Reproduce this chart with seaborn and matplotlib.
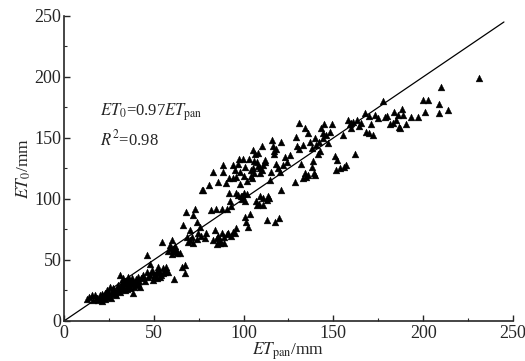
import numpy as np
import pandas as pd
import seaborn as sns
import matplotlib.pyplot as plt
from matplotlib.ticker import MultipleLocator

# ET_pan (x) and ET_0 (y) values, in mm
et_pan = [14.1, 13, 15.4, 18.2, 20, 21, 22, 22.8, 23.7, 24.7, 25.6, 26.5, 27.4, 28.4, 29.3, 30.2,
          31.2, 32, 33, 34, 34.9, 35.8, 36.7, 37.6, 38.6, 39.5, 40.4, 41.4, 42.3, 44, 46, 47.8,
          48.8, 49.7, 50.6, 51.6, 52.5, 53.4, 54.3, 55.3, 56, 57, 58, 59, 60, 60.8, 61.8, 61.3,
          62.7, 64.5, 65.5, 66, 67.3, 67.3, 67.9, 68.2, 69, 70, 72, 72.9, 73.8, 74.7, 75.7, 76.6,
          77.5, 78.4, 81, 82, 83, 84, 84.6, 85, 85.9, 86.8, 87.7, 88.6, 88.6, 89, 90.5, 91.4,
          92, 92.4, 93, 94.2, 94.2, 95, 96, 97, 97.6, 98, 98.3, 98.9, 99.8, 100.7, 100.7, 101.6,
          102.6, 103.5, 103.9, 104.4, 105.3, 106.3, 107.2, 107.6, 108.7, 109, 110, 110.9, 111.8,
          112.8, 113.7, 114.6, 115.5, 116, 116.5, 116.8, 117.4, 118.3, 119.8, 121, 121, 122, 123,
          125.7, 128.5, 129, 130, 130.6, 132, 133, 134, 134, 135, 136, 137, 138, 138.7, 139,
          139.7, 140.6, 141.5, 142.4, 143.3, 144.3, 145, 149, 150.8, 151.7, 153.5, 155.4, 157,
          158, 159, 160, 162, 163, 165.6, 167.5, 168.4, 170, 171, 173, 177.7, 178.6, 181.4, 183,
          184, 186, 186.7, 188, 188.8, 190.7, 193.4, 197, 200, 200.9, 202.7, 209, 209, 210,
          213.8, 231,
          16, 17, 19, 20, 21, 23, 24, 25, 26, 27, 28, 29, 30, 31, 32, 32, 33, 33, 34, 35, 35, 36,
          36, 37, 37, 38, 38, 39, 40, 41, 42, 43, 44, 45, 46, 47, 48, 49, 50, 51, 52, 53, 54, 55,
          56, 57, 58, 59, 60, 61, 62, 63,
          70, 71, 72, 74, 76, 79, 83, 85, 86, 87, 88, 89, 91, 93, 94, 96, 97, 99, 100, 101, 102,
          104, 105, 106, 108, 109, 110, 111, 112, 107, 109, 111, 113, 114, 90, 92, 95, 96, 98,
          100, 102, 103, 106, 108, 117, 118, 119, 120, 124,
          131, 133, 136, 138, 140, 142, 144, 146, 147, 148, 152, 156, 160, 161, 164, 170, 172,
          175, 180, 185, 187]
et_0 = [19.9, 18, 21, 19, 21, 16, 18.6, 22.7, 25.4, 20, 28, 24, 26.8, 22.7, 25.4, 29.5,
        37.7, 32, 35, 25, 31, 36, 28, 33.6, 22.7, 32, 29.5, 36, 28, 36, 54, 47,
        40, 33.6, 37.7, 40, 44.5, 36, 65, 39, 42, 44.5, 40, 62, 66, 58, 61, 34,
        57, 55.5, 44.5, 79, 46, 39, 89, 69, 65, 74.6, 87, 92, 81, 72, 77, 107,
        107, 68, 111, 91, 122, 74.6, 92, 68, 114, 64, 92, 128, 122, 64, 92, 72,
        104.6, 98, 94, 128, 117, 72, 104.6, 129, 133, 122, 102, 102, 133, 126.5, 85.5, 81,
        77, 88, 124, 117, 140, 137, 130.6, 95, 96, 125, 143, 100.5, 132,
        83, 102, 115.6, 122, 148, 143, 139, 81, 129, 84, 147, 107, 128, 134.7,
        136, 114, 151, 143, 162, 129, 144, 158, 121, 118, 154, 147, 142, 131, 121,
        150, 144, 137, 139, 158, 154, 161, 161, 135, 124, 125, 152.5, 128,
        165, 161, 162, 137, 165, 162, 170, 155, 154, 161, 169, 180, 167.5, 161, 162,
        171.6, 169, 159, 174, 169, 161, 167.5, 167.5, 181, 171, 181, 178, 170, 191.5,
        173, 199,
        17, 21, 17, 19, 22, 18, 21, 23, 19, 22, 25, 21, 27, 24, 29, 26, 31, 28, 33, 29, 26, 32,
        34, 30, 27, 35, 31, 28, 34, 31, 33, 35, 38, 33, 40, 36, 38, 42, 36, 39, 35, 41, 38, 43,
        40, 42, 57, 60, 55, 57, 59, 56,
        66, 69, 64, 67, 70, 72, 66, 63, 70, 66, 72, 69, 71, 70, 73, 76, 103, 100, 105, 98, 104,
        119, 125, 121, 127, 121, 124, 128, 130, 98, 102, 95, 99, 101, 113, 117, 124, 118, 112,
        119, 115, 133, 131, 138, 137, 141, 125, 122, 130,
        141, 117, 120, 126, 120, 147, 150, 152, 146, 155, 132, 126, 158, 163, 160, 168, 152,
        166, 168, 165, 158]

# fitted line as drawn on the chart
line_x = [0, 245]
line_y = [0, 245]

sns.set_style('ticks')
plt.rcParams['font.family'] = ['Liberation Serif', 'DejaVu Serif']
plt.rcParams['mathtext.fontset'] = 'stix'

df = pd.DataFrame({'ET_pan': et_pan, 'ET_0': et_0})

fig = plt.figure(figsize=(5.25, 3.61), dpi=100)
ax = fig.add_axes([0.122, 0.111, 0.855, 0.845])

sns.scatterplot(data=df, x='ET_pan', y='ET_0', marker='^', s=24, color='black',
                edgecolor='black', linewidth=0.3, ax=ax)
sns.lineplot(x=line_x, y=line_y, color='black', linewidth=0.9, ax=ax)

ax.set_xlim(0, 250)
ax.set_ylim(0, 250)
ax.xaxis.set_major_locator(MultipleLocator(50))
ax.yaxis.set_major_locator(MultipleLocator(50))
ax.xaxis.set_minor_locator(MultipleLocator(25))
ax.yaxis.set_minor_locator(MultipleLocator(25))
ax.tick_params(which='major', direction='in', length=4, width=1, labelsize=13)
ax.tick_params(axis='x', which='major', pad=3)
ax.tick_params(axis='y', which='major', pad=2)
ax.tick_params(which='minor', direction='in', length=2.5, width=0.8)
for side in ['top', 'right']:
    ax.spines[side].set_visible(False)
for side in ['left', 'bottom']:
    ax.spines[side].set_linewidth(1.2)

ax.set_xlabel(r'$\mathit{ET}_{\mathrm{pan}}$/mm', fontsize=12.5, labelpad=-1)
ax.set_ylabel(r'$\mathit{ET}_{\mathit{0}}$/mm', fontsize=12.5, labelpad=1)

ax.text(20, 168, r'$\mathit{ET}_{\mathit{0}}$=0.97$\mathit{ET}_{\mathrm{pan}}$', fontsize=12)
ax.text(20, 144, r'$\mathit{R}^{2}$=0.98', fontsize=12)

fig.savefig('out.png', dpi=100)
